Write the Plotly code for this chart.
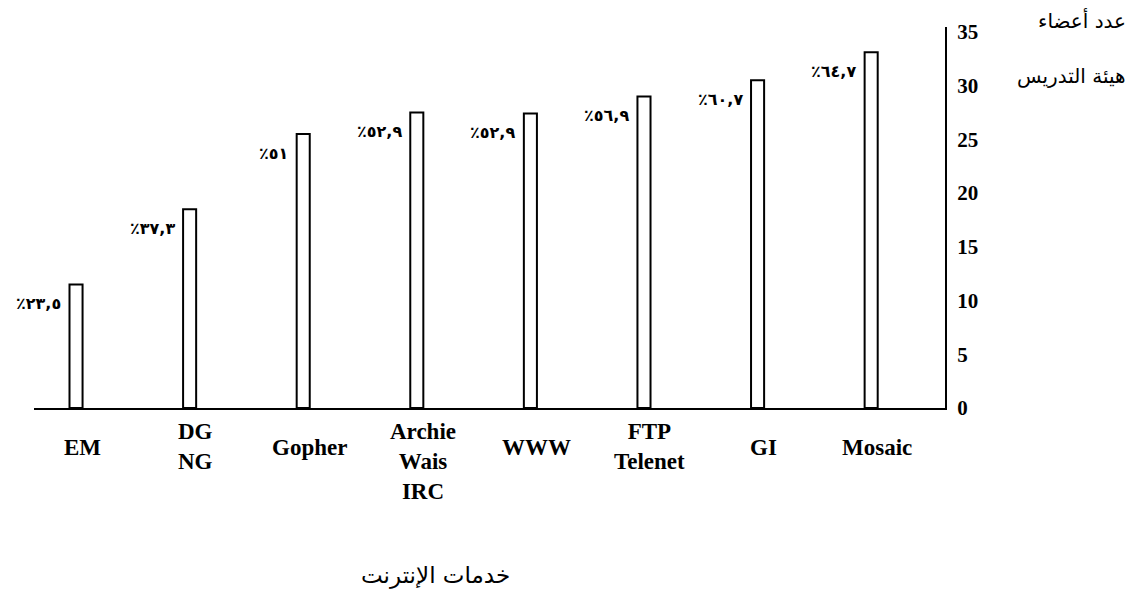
import plotly.graph_objects as go

# الخدمات (المحور الأفقي) وعدد أعضاء هيئة التدريس
services = ["EM", "DG<br>NG", "Gopher", "Archie<br>Wais<br>IRC", "WWW",
            "FTP<br>Telenet", "GI", "Mosaic"]
counts = [11.5, 18.5, 25.5, 27.5, 27.4, 29.0, 30.5, 33.1]
percent_labels = ["٪٢٣,٥", "٪٣٧,٣", "٪٥١", "٪٥٢,٩", "٪٥٢,٩", "٪٥٦,٩", "٪٦٠,٧", "٪٦٤,٧"]
y_ticks = [0, 5, 10, 15, 20, 25, 30, 35]

serif = "Liberation Serif"
arabic = "DejaVu Sans"

fig = go.Figure()
fig.add_trace(go.Bar(
    x=services,
    y=counts,
    width=0.115,
    marker=dict(color="white", line=dict(color="black", width=2)),
    hoverinfo="skip",
))

annotations = []
for s, v, p in zip(services, counts, percent_labels):
    annotations.append(dict(
        x=s, y=v, xref="x", yref="y", text=p, showarrow=False,
        xanchor="right", yanchor="middle", xshift=-13, yshift=-19,
        font=dict(family=arabic, size=16, color="black", weight="bold"),
    ))
    # تسميات الخدمات تحت المحور
    one_line = "<br>" not in s
    annotations.append(dict(
        x=s, y=0, xref="x", yref="y", text=s, showarrow=False,
        xanchor="center", yanchor="top", xshift=6,
        yshift=-25 if one_line else -9,
        font=dict(family=serif, size=23, color="black", weight="bold"),
    ))

# نصوص حرة (بالبكسل على الصفحة)
annotations += [
    dict(x=1128, y=15, xref="paper", yref="paper", text="عدد أعضاء",
         showarrow=False, xanchor="right", yanchor="middle",
         font=dict(family=arabic, size=20, color="black")),
    dict(x=1128, y=72, xref="paper", yref="paper", text="هيئة التدريس",
         showarrow=False, xanchor="right", yanchor="middle",
         font=dict(family=arabic, size=20, color="black")),
    dict(x=435, y=578, xref="paper", yref="paper", text="خدمات الإنترنت",
         showarrow=False, xanchor="center", yanchor="middle",
         font=dict(family=arabic, size=23, color="black")),
]

# the page body has an 8px margin, so the figure is drawn 8px smaller
OFF = 8
W, H = 1145 - OFF, 603 - OFF
L, R, T, B = 34 - OFF, 200, 22 - OFF, 195
for a in annotations:
    if a["xref"] == "paper":
        a["x"] = (a["x"] - OFF - L) / (W - L - R)
        a["y"] = 1 - (a["y"] - OFF - T) / (H - T - B)

fig.update_layout(
    width=W, height=H,
    margin=dict(l=L, r=R, t=T, b=B),
    paper_bgcolor="white", plot_bgcolor="white",
    showlegend=False,
    annotations=annotations,
    xaxis=dict(
        type="category", range=[-0.37, 7.65],
        showline=True, linecolor="black", linewidth=2,
        showticklabels=False, ticks="", showgrid=False, zeroline=False,
    ),
    yaxis=dict(
        side="right", range=[0, 35.46],
        tickvals=y_ticks, ticks="", ticklabelstandoff=6,
        tickfont=dict(family=serif, size=21, color="black", weight="bold"),
        showline=True, linecolor="black", linewidth=2,
        showgrid=False, zeroline=False,
    ),
)

fig.write_html("out.html")
